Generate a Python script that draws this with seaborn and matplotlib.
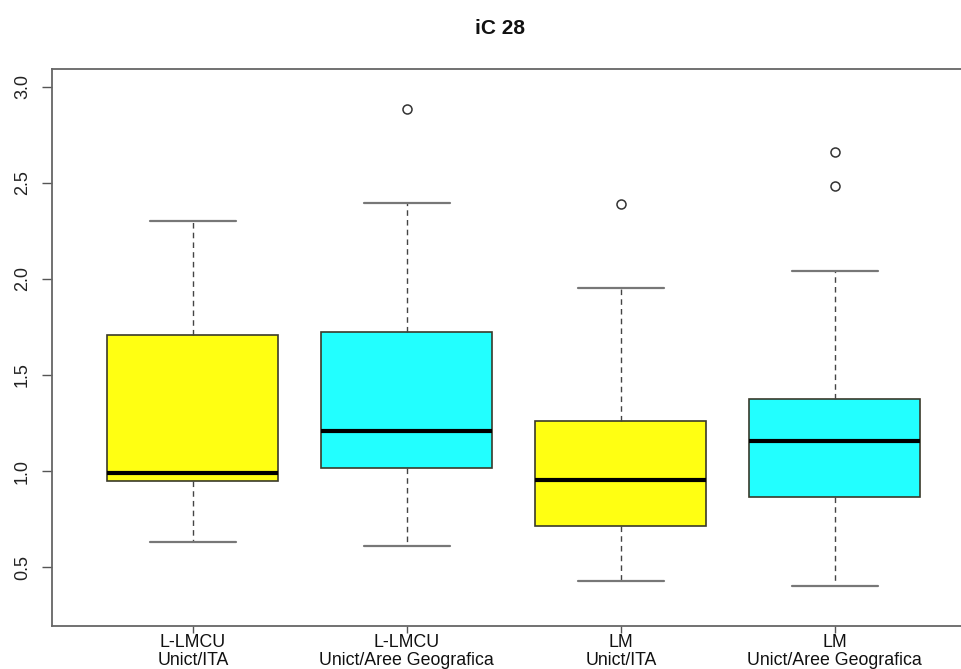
import pandas as pd
import seaborn as sns
import matplotlib.pyplot as plt

# values (13 points per group so that the
# quartiles land exactly on the points read from the picture)
lmcu_ita = [0.630, 0.78, 0.90, 0.948, 0.96, 0.975, 0.991, 1.20, 1.45, 1.706, 1.90, 2.10, 2.302]
lmcu_geo = [0.612, 0.80, 0.95, 1.018, 1.08, 1.15, 1.207, 1.35, 1.55, 1.722, 2.00, 2.393, 2.881]
lm_ita = [0.426, 0.55, 0.65, 0.716, 0.80, 0.88, 0.955, 1.05, 1.15, 1.261, 1.50, 1.951, 2.388]
lm_geo = [0.405, 0.60, 0.75, 0.868, 0.95, 1.05, 1.156, 1.22, 1.30, 1.377, 2.039, 2.482, 2.660]

groups = ["L-LMCU\nUnict/ITA", "L-LMCU\nUnict/Aree Geografica",
          "LM\nUnict/ITA", "LM\nUnict/Aree Geografica"]
colors = ["#ffff12", "#22ffff", "#ffff12", "#22ffff"]
title = "iC 28"

r = pd.DataFrame({
    "group": [groups[0]] * len(lmcu_ita) + [groups[1]] * len(lmcu_geo)
             + [groups[2]] * len(lm_ita) + [groups[3]] * len(lm_geo),
    "value": lmcu_ita + lmcu_geo + lm_ita + lm_geo,
})

################################
sns.set_style("white")
plt.rcParams['font.family'] = ['Liberation Sans', 'DejaVu Sans']

fig = plt.figure(figsize=(9.61, 6.69), dpi=100)
ax = fig.add_axes([0.0538, 0.0647, 0.9618, 0.8317])

sns.boxplot(data=r, x="group", y="value", hue="group", order=groups,
            hue_order=groups, palette=colors, saturation=1, legend=False,
            width=0.8, whis=1.5, dodge=False, ax=ax,
            boxprops=dict(edgecolor="#3a3a2a", linewidth=1.2),
            medianprops=dict(color="black", linewidth=3),
            whiskerprops=dict(color="#444444", linewidth=1.0, linestyle=(0, (4, 3))),
            capprops=dict(color="#777777", linewidth=1.6),
            flierprops=dict(marker="o", markerfacecolor="none",
                            markeredgecolor="#333333", markeredgewidth=1.1,
                            markersize=6.5))

ax.set_xlim(-0.66, 3.66)
ax.set_ylim(0.196, 3.09)
ax.set_yticks([0.5, 1.0, 1.5, 2.0, 2.5, 3.0])
ax.set_yticklabels(["0.5", "1.0", "1.5", "2.0", "2.5", "3.0"])
ax.set_xlabel("")
ax.set_ylabel("")

# frame like the R device: left, top and bottom lines
for side in ["left", "top", "bottom"]:
    ax.spines[side].set_visible(True)
    ax.spines[side].set_color("#666666")
    ax.spines[side].set_linewidth(1.3)
ax.spines["right"].set_visible(False)

ax.tick_params(axis="y", direction="out", length=7, width=1, color="#555555",
               pad=8, labelsize=13, labelcolor="#222222", left=True)
ax.tick_params(axis="x", direction="out", length=5, width=1, color="#555555",
               pad=1, labelsize=12.8, labelcolor="#111111", bottom=True)
for lab in ax.get_yticklabels():
    lab.set_rotation(90)
    lab.set_va("center")
for lab in ax.get_xticklabels():
    lab.set_linespacing(1.05)

fig.text(0.5203, 0.958, title, ha="center", va="center",
         fontsize=15, fontweight="bold", color="#111111")

fig.savefig("out.png", dpi=100)
